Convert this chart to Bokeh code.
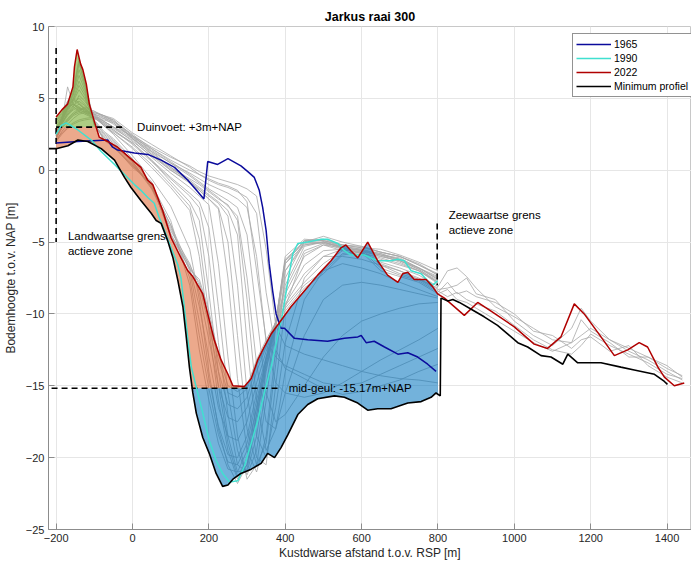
import numpy as np
from bokeh.plotting import figure
from bokeh.models import Range1d, Label, Legend, LegendItem, FixedTicker
from bokeh.embed import file_html
from bokeh.resources import INLINE

FONT = "Liberation Sans"

# ---------------- data ----------------
x_2022 = [-200, -185, -170, -156, -152, -145, -136, -130, -121, -113, -100, -87, -65, -39, -13, 22, 40, 53,
          66, 79, 101, 127, 145, 158, 184, 197, 214, 232, 250, 263, 293, 311, 328, 345, 363, 385, 415,
          450, 485, 520, 546, 559, 572, 590, 616, 642, 668, 695, 708, 721, 738, 769, 786, 799, 817, 869,
          904, 939, 1000, 1052, 1087, 1122, 1157, 1183, 1227, 1262, 1297, 1327, 1349, 1376, 1393, 1419, 1445]
y_2022 = [3.7, 4.2, 4.6, 5.8, 7.2, 8.4, 7.4, 7.0, 6.0, 4.6, 3.4, 2.3, 2.0, 1.6, 1.0, 0.2, -0.7, -1.0,
          -1.9, -2.8, -4.7, -6.1, -7.0, -7.4, -8.6, -10.0, -11.8, -13.2, -14.2, -15.0, -15.05, -14.5, -13.2,
          -12.3, -11.4, -10.6, -9.5, -8.4, -7.3, -6.3, -5.4, -5.2, -5.6, -6.1, -5.0, -6.3, -7.3, -7.8, -7.2,
          -7.1, -7.6, -7.6, -8.1, -8.6, -8.9, -10.1, -9.2, -9.8, -10.9, -12.1, -12.4, -11.6, -9.3, -10.0,
          -11.6, -12.9, -12.5, -12.0, -12.3, -13.7, -14.4, -15.0, -14.8]

x_1990 = [-200, -187, -174, -161, -143, -108, -82, -47, -21, 5, 22, 40, 57, 70, 84, 101, 119, 127, 136,
          145, 154, 167, 184, 201, 219, 236, 254, 276, 293, 311, 328, 345, 363, 380, 393, 407, 420, 433,
          459, 494, 511, 538, 555, 572, 607, 642, 677, 695, 712, 730, 756, 773, 786, 799]
y_1990 = [2.5, 3.1, 3.3, 3.1, 2.8, 2.1, 1.3, 0.4, -0.3, -1.0, -1.4, -1.9, -2.3, -3.3, -4.2, -5.4, -6.6,
          -7.5, -9.6, -11.8, -13.7, -15.1, -16.9, -18.8, -20.2, -21.1, -21.7, -21.6, -20.6, -19.0, -17.4,
          -15.5, -13.7, -11.6, -10.0, -7.7, -5.8, -5.1, -5.0, -4.8, -4.8, -5.1, -5.6, -5.9, -5.9, -6.3,
          -6.3, -6.2, -6.3, -7.0, -7.2, -7.7, -8.0, -7.7]

x_1965 = [-200, -143, -65, -52, -39, 5, 40, 75, 110, 145, 171, 187, 197, 223, 250, 284, 302, 319, 332,
          341, 350, 358, 367, 376, 389, 398, 424, 459, 511, 555, 590, 599, 612, 633, 660, 695, 721, 747,
          773, 795]
y_1965 = [1.9, 2.0, 2.1, 1.6, 1.4, 1.2, 1.1, 0.7, 0.2, -0.7, -1.5, -2.0, 0.6, 0.4, 0.8, 0.3, -0.1, -0.5,
          -1.4, -2.6, -4.2, -6.5, -8.4, -10.0, -11.0, -11.0, -11.7, -11.8, -11.9, -11.7, -11.6, -11.5,
          -12.0, -11.9, -12.3, -12.8, -12.7, -13.0, -13.5, -14.0]

x_min = [-220, -200, -169, -143, -117, -82, -47, -21, -4, 22, 49, 62, 75, 92, 106, 119, 132, 140, 149,
         158, 167, 184, 201, 219, 236, 250, 263, 284, 311, 337, 354, 372, 389, 407, 433, 459, 485, 529,
         555, 590, 616, 642, 677, 721, 756, 782, 795, 806, 808, 826, 839, 856, 895, 921, 956, 983, 1009,
         1035, 1070, 1096, 1127, 1140, 1166, 1227, 1279, 1314, 1367, 1393, 1401]
y_min = [1.5, 1.5, 1.7, 2.1, 2.0, 1.5, 0.7, -0.5, -1.2, -2.1, -3.0, -3.5, -3.7, -4.9, -6.1, -7.7, -9.5,
         -11.4, -13.7, -15.5, -16.9, -18.6, -19.7, -21.1, -22.0, -21.9, -21.5, -21.1, -20.8, -20.4, -19.7,
         -20.0, -19.3, -18.4, -17.0, -16.3, -15.9, -15.7, -15.8, -16.2, -16.7, -16.6, -16.6, -16.2, -16.1,
         -15.8, -15.5, -15.7, -8.9, -9.1, -9.0, -9.2, -9.8, -10.2, -10.8, -11.4, -12.0, -12.3, -12.9,
         -13.0, -13.5, -12.8, -13.4, -13.4, -13.7, -13.9, -14.2, -14.7, -14.9]

# all other yearly profiles (grey)
gray_x = [-200, -185, -170, -155, -140, -125, -100, -75, -50, 0, 50, 100, 150, 175, 200, 225, 250, 275,
          300, 325, 350, 375, 400, 450, 500, 550, 600, 650, 700, 750, 800]
gray_z = [
    [2.1, 2.6, 3.0, 3.3, 3.5, 3.6, 3.7, 3.6, 3.4, 2.4, 1.6, 0.9, 0.3, -0.1, -0.4, -0.6, -0.8, -1.0, -1.3, -1.8, -5.5, -10.8, -12.2, -12.8, -13.2, -13.6, -14.0, -14.3, -14.5, -14.6, -14.8],
    [2.0, 2.5, 2.9, 3.2, 3.4, 3.5, 3.6, 3.5, 3.3, 2.3, 1.5, 0.7, 0.0, -0.3, -0.6, -0.9, -1.1, -1.4, -2.2, -7.0, -11.8, -13.0, -13.6, -14.2, -14.8, -15.0, -14.8, -14.2, -13.6, -13.0, -12.4],
    [2.2, 2.9, 3.4, 3.8, 4.0, 4.1, 4.0, 3.8, 3.6, 2.6, 1.8, 1.0, 0.2, -0.3, -0.7, -1.0, -1.2, -1.5, -1.9, -3.0, -8.5, -12.5, -13.8, -14.5, -15.2, -15.6, -15.4, -15.0, -14.6, -14.0, -13.5],
    [2.0, 2.7, 3.2, 3.6, 3.9, 4.0, 3.9, 3.7, 3.5, 2.2, 1.3, 0.5, -0.2, -0.6, -1.0, -1.3, -1.6, -2.0, -2.6, -6.0, -12.0, -14.8, -15.5, -15.8, -15.5, -14.8, -14.0, -13.2, -12.5, -11.8, -11.0],
    [2.3, 3.1, 3.6, 4.0, 4.3, 4.2, 4.0, 3.8, 3.4, 2.5, 1.5, 0.6, -0.3, -0.8, -1.3, -1.7, -2.1, -2.6, -4.5, -10.0, -15.5, -17.5, -17.0, -15.0, -13.0, -11.5, -10.5, -10.0, -9.6, -9.3, -9.2],
    [2.3, 3.0, 3.5, 3.9, 4.2, 4.3, 4.1, 3.8, 3.5, 2.4, 1.4, 0.5, -0.4, -0.9, -1.4, -1.9, -2.5, -3.2, -7.5, -13.5, -17.5, -18.0, -15.5, -11.5, -9.0, -8.0, -7.8, -8.0, -8.3, -8.6, -8.9],
    [2.4, 3.3, 3.9, 4.2, 4.4, 4.1, 3.9, 3.6, 3.2, 2.3, 1.2, 0.2, -0.6, -1.0, -1.5, -2.0, -2.4, -3.5, -9.0, -16.0, -19.5, -18.0, -14.0, -9.0, -7.0, -6.5, -6.8, -7.2, -7.8, -8.3, -8.8],
    [2.2, 3.0, 3.5, 3.9, 4.1, 4.4, 4.1, 3.7, 3.3, 2.2, 1.1, 0.1, -0.7, -1.2, -1.7, -2.2, -2.8, -4.5, -12.0, -18.5, -20.0, -16.5, -12.0, -7.5, -6.0, -6.0, -6.2, -6.6, -7.0, -7.6, -8.2],
    [2.5, 3.4, 5.8, 4.6, 4.2, 4.0, 3.7, 3.4, 3.0, 2.0, 1.0, 0.0, -0.8, -1.3, -1.8, -2.3, -3.2, -8.0, -15.5, -20.0, -20.5, -15.0, -9.5, -5.8, -5.2, -5.4, -5.6, -6.0, -6.3, -6.8, -7.5],
    [2.4, 3.2, 3.8, 4.3, 4.6, 4.3, 3.8, 3.4, 3.0, 2.2, 1.1, 0.0, -0.9, -1.4, -2.0, -2.6, -5.0, -11.5, -18.0, -20.5, -19.0, -13.5, -7.0, -5.2, -5.0, -5.3, -5.5, -5.9, -6.2, -6.8, -7.4],
    [2.3, 3.2, 4.0, 4.5, 4.8, 4.5, 3.9, 3.4, 3.0, 2.4, 1.3, 0.2, -0.8, -1.4, -2.0, -2.7, -7.5, -14.5, -19.5, -21.0, -18.5, -12.5, -7.5, -5.0, -4.6, -5.0, -5.3, -5.7, -6.0, -6.6, -7.2],
    [2.6, 3.6, 4.8, 4.4, 4.1, 3.9, 3.6, 3.3, 2.9, 2.1, 0.9, -0.2, -1.2, -1.8, -2.4, -6.5, -13.0, -18.5, -21.5, -20.5, -16.0, -11.0, -6.5, -4.9, -4.8, -5.2, -5.4, -5.5, -5.9, -6.4, -7.0],
    [2.5, 3.5, 4.4, 4.6, 4.4, 4.1, 3.7, 3.3, 2.8, 1.9, 0.7, -0.5, -1.6, -2.2, -4.0, -9.5, -15.5, -19.5, -21.2, -19.5, -15.0, -10.8, -6.3, -4.9, -4.9, -5.2, -5.4, -5.7, -6.0, -6.6, -7.3],
    [2.4, 3.5, 4.3, 4.6, 4.3, 4.0, 3.6, 3.2, 2.8, 1.8, 0.6, -0.6, -1.8, -2.6, -6.0, -12.0, -17.0, -20.5, -21.0, -18.5, -14.0, -10.5, -6.2, -5.0, -5.1, -5.3, -5.5, -5.8, -6.2, -6.8, -7.6],
    [2.5, 3.4, 4.1, 4.7, 5.0, 4.6, 3.8, 3.2, 2.7, 1.9, 0.7, -0.8, -2.2, -3.5, -8.5, -14.0, -18.5, -21.0, -20.8, -17.5, -13.5, -10.6, -6.0, -4.8, -4.9, -5.2, -5.3, -5.7, -6.0, -6.5, -7.3],
    [2.6, 3.6, 4.5, 4.9, 4.6, 4.2, 3.7, 3.1, 2.6, 1.6, 0.4, -1.0, -2.5, -4.8, -10.0, -15.0, -19.0, -21.3, -20.5, -17.0, -13.2, -10.6, -6.3, -5.1, -5.0, -5.4, -5.6, -5.8, -6.3, -6.9, -7.7],
    [2.6, 3.7, 4.6, 5.0, 4.7, 4.3, 3.7, 3.1, 2.6, 1.5, 0.2, -1.2, -2.8, -6.0, -11.0, -16.0, -19.5, -21.5, -20.0, -16.5, -13.0, -10.5, -6.5, -5.2, -5.0, -5.4, -5.7, -5.9, -6.4, -7.0, -7.8],
    [2.5, 3.3, 3.9, 4.4, 5.2, 4.8, 3.9, 3.1, 2.5, 1.0, -0.6, -2.5, -5.5, -9.0, -14.0, -18.0, -20.5, -21.8, -20.5, -17.0, -13.8, -11.0, -7.0, -5.0, -4.9, -5.3, -5.6, -5.9, -6.1, -6.8, -7.6],
    [2.6, 3.4, 4.2, 4.8, 5.6, 5.0, 3.5, 2.7, 2.2, 0.8, -1.0, -3.5, -8.0, -12.5, -16.0, -19.0, -20.8, -21.0, -19.5, -16.5, -13.5, -10.8, -8.0, -5.3, -5.0, -5.4, -5.8, -6.0, -6.3, -6.9, -7.8],
    [2.7, 3.5, 4.3, 4.9, 5.9, 5.2, 3.4, 2.6, 2.1, 0.6, -1.2, -3.8, -7.5, -11.5, -15.2, -18.4, -20.3, -20.5, -19.0, -16.0, -13.2, -10.7, -8.3, -5.6, -5.1, -5.5, -5.8, -6.1, -6.5, -7.0, -7.8],
    [2.7, 3.5, 4.3, 5.0, 6.2, 5.4, 3.4, 2.5, 2.0, 0.5, -1.3, -4.0, -7.0, -10.5, -14.5, -17.8, -19.8, -20.0, -18.5, -15.5, -13.0, -10.7, -8.6, -6.0, -5.2, -5.6, -5.9, -6.2, -6.6, -7.0, -7.9],
    [2.9, 3.6, 4.4, 5.2, 6.6, 5.6, 3.2, 2.4, 1.9, 0.6, -1.2, -3.8, -6.8, -9.5, -13.0, -16.5, -18.5, -18.8, -17.5, -14.8, -12.6, -10.6, -9.0, -6.6, -5.6, -5.5, -5.8, -6.4, -6.8, -7.3, -8.1],
    [3.0, 3.7, 4.5, 5.3, 7.0, 5.8, 3.1, 2.3, 1.8, 0.4, -1.1, -4.2, -6.5, -8.5, -11.8, -15.0, -17.2, -17.5, -16.5, -14.0, -12.3, -10.6, -9.3, -7.2, -6.0, -5.5, -5.7, -6.5, -7.0, -7.5, -8.3],
    [3.2, 3.8, 4.6, 5.4, 7.4, 6.0, 3.2, 2.2, 1.7, 0.3, -1.0, -4.5, -6.6, -8.0, -10.8, -14.0, -16.3, -16.6, -15.8, -13.6, -12.2, -10.6, -9.4, -7.8, -6.5, -5.6, -5.5, -6.6, -7.2, -7.6, -8.4],
    [3.4, 3.9, 4.7, 5.5, 7.6, 6.0, 3.3, 2.1, 1.7, 0.2, -0.9, -4.6, -6.8, -7.8, -10.2, -13.2, -15.5, -15.8, -15.2, -13.4, -12.0, -10.6, -9.6, -8.0, -7.0, -5.8, -5.6, -6.8, -7.3, -7.7, -8.5],
    [3.5, 4.0, 4.8, 5.6, 7.8, 6.2, 3.3, 2.1, 1.6, 0.3, -0.8, -4.4, -6.9, -7.6, -9.8, -12.8, -15.0, -15.4, -15.0, -13.2, -11.8, -10.6, -9.8, -8.2, -7.2, -5.9, -5.7, -7.0, -7.4, -7.8, -8.6],
]
# seaward continuation of the last five grey profiles
sea_x = [825, 850, 875, 900, 950, 1000, 1050, 1100, 1150, 1175, 1200, 1250, 1300, 1350, 1400, 1440]
sea_z = [
    [-7.0, -6.8, -7.4, -8.2, -9.5, -10.2, -11.0, -11.8, -12.0, -11.5, -11.0, -11.8, -12.4, -13.0, -13.8, -14.3],
    [-8.2, -8.0, -7.5, -8.6, -9.0, -10.5, -11.5, -12.2, -11.0, -9.6, -10.5, -11.8, -12.6, -13.2, -14.0, -14.6],
    [-8.8, -8.5, -9.0, -9.3, -9.8, -10.8, -11.8, -12.5, -12.8, -12.2, -11.4, -12.2, -12.8, -13.4, -14.2, -14.5],
    [-7.8, -8.6, -8.4, -8.8, -9.2, -10.0, -11.2, -11.5, -12.4, -11.8, -11.6, -12.6, -12.2, -13.6, -14.4, -14.8],
    [-8.3, -9.0, -9.2, -9.6, -10.4, -11.2, -12.0, -12.6, -12.0, -10.4, -11.2, -12.0, -13.0, -13.0, -13.6, -14.4],
]

duinvoet = 3.0
midgeul = -15.17
x_land = -200
x_sea = 800
x_ticks = [-200, 0, 200, 400, 600, 800, 1000, 1200, 1400]
y_ticks = [-25, -20, -15, -10, -5, 0, 5, 10]

# ---------------- figure ----------------
p = figure(frame_width=643, frame_height=503, output_backend="svg", toolbar_location=None,
           x_range=Range1d(-220, 1464), y_range=Range1d(-25, 10),
           min_border_left=47, min_border_right=0, min_border_top=26, min_border_bottom=36,
           title="Jarkus raai 300")
p.title.align = "center"
p.title.text_font = FONT
p.title.text_font_size = "12.5px"
p.title.text_font_style = "bold"
p.title.text_color = "#000000"
p.title.standoff = 6
p.outline_line_color = "#c8c8c8"
p.background_fill_color = "white"

for ax in (p.xaxis[0], p.yaxis[0]):
    ax.major_label_text_font = FONT
    ax.major_label_text_font_size = "11px"
    ax.major_label_text_color = "#262626"
    ax.axis_label_text_font = FONT
    ax.axis_label_text_font_size = "12px"
    ax.axis_label_text_font_style = "normal"
    ax.axis_label_text_color = "#262626"
    ax.axis_line_color = "#8c8c8c"
    ax.major_tick_line_color = "#8c8c8c"
    ax.major_tick_in = 6
    ax.major_tick_out = 0
    ax.minor_tick_line_color = None
    ax.major_label_standoff = 4
    ax.axis_label_standoff = 1
p.yaxis[0].axis_label_standoff = 5
p.xaxis.ticker = FixedTicker(ticks=x_ticks)
p.yaxis.ticker = FixedTicker(ticks=y_ticks)
p.xaxis.axis_label = "Kustdwarse afstand t.o.v. RSP [m]"
p.yaxis.axis_label = "Bodemhoogte t.o.v. NAP [m]"
p.xgrid.ticker = FixedTicker(ticks=x_ticks)
p.ygrid.ticker = FixedTicker(ticks=y_ticks)
p.grid.grid_line_color = "#e6e6e6"

# grey profiles
for i, z in enumerate(gray_z):
    xs_g = list(gray_x)
    zs_g = list(z)
    k = i - (len(gray_z) - len(sea_z))
    if k >= 0:
        xs_g += sea_x
        zs_g += sea_z[k]
    p.line(xs_g, zs_g, line_color="#a8a8a8", line_width=0.8)

# fills derived from the 2022 profile and the minimum profile
xs = np.arange(x_land, x_sea + 1, 1.0)
r = np.interp(xs, x_2022, y_2022)
m = np.interp(xs, x_min, y_min)
sel = (xs >= 0)
xc = xs[sel][np.argmin(r[sel])]

g_top = np.maximum(r, duinvoet)
p.varea(x=xs, y1=np.full_like(xs, duinvoet), y2=g_top, fill_color="#77AC30", fill_alpha=0.6)

left = xs <= xc
o_lo = np.maximum(m[left], midgeul)
o_hi = np.maximum(np.minimum(r[left], duinvoet), o_lo)
p.varea(x=xs[left], y1=o_lo, y2=o_hi, fill_color="#D95319", fill_alpha=0.5)

b_hi = np.where(xs <= xc, np.maximum(np.minimum(r, midgeul), m), r)
p.varea(x=xs, y1=m, y2=b_hi, fill_color="#0072BD", fill_alpha=0.55)

# reference lines
dash = "6 4"
p.line([x_land, x_land], [8.5, -5.0], line_color="black", line_width=1.6, line_dash=dash)
p.line([x_sea - 2, x_sea - 2], [-3.7, -8.0], line_color="black", line_width=1.6, line_dash=dash)
p.line([x_land, -22], [duinvoet, duinvoet], line_color="black", line_width=1.6, line_dash=dash)
p.line([-212, 380], [midgeul, midgeul], line_color="black", line_width=1.6, line_dash=dash)

# highlighted profiles
r65 = p.line(x_1965, y_1965, line_color="#0B0B9C", line_width=1.5)
r90 = p.line(x_1990, y_1990, line_color="#40E0D0", line_width=1.5)
r22 = p.line(x_2022, y_2022, line_color="#B00000", line_width=1.5)
rmin = p.line(x_min, y_min, line_color="black", line_width=1.6)

legend = Legend(items=[LegendItem(label="1965", renderers=[r65]),
                       LegendItem(label="1990", renderers=[r90]),
                       LegendItem(label="2022", renderers=[r22]),
                       LegendItem(label="Minimum profiel", renderers=[rmin])],
                location=(524, 432))
legend.label_text_font = FONT
legend.label_text_font_size = "10.5px"
legend.label_text_color = "#000000"
legend.glyph_width = 35
legend.glyph_height = 14
legend.label_height = 14
legend.spacing = 0
legend.padding = 3
legend.margin = 0
legend.label_standoff = 3
legend.border_line_color = "#262626"
legend.border_line_width = 0.8
legend.background_fill_alpha = 1.0
p.add_layout(legend)

def label(x, y, text):
    p.add_layout(Label(x=x, y=y, text=text, text_font=FONT, text_font_size="11.5px",
                       text_baseline="middle", text_align="left", text_color="#000000"))

label(12, duinvoet, "Duinvoet: +3m+NAP")
label(409, midgeul, "mid-geul: -15.17m+NAP")
label(-169, -4.55, "Landwaartse grens")
label(-169, -5.6, "actieve zone")
label(828, -3.1, "Zeewaartse grens")
label(828, -4.15, "actieve zone")

open("out.html", "w").write(file_html(p, INLINE))
